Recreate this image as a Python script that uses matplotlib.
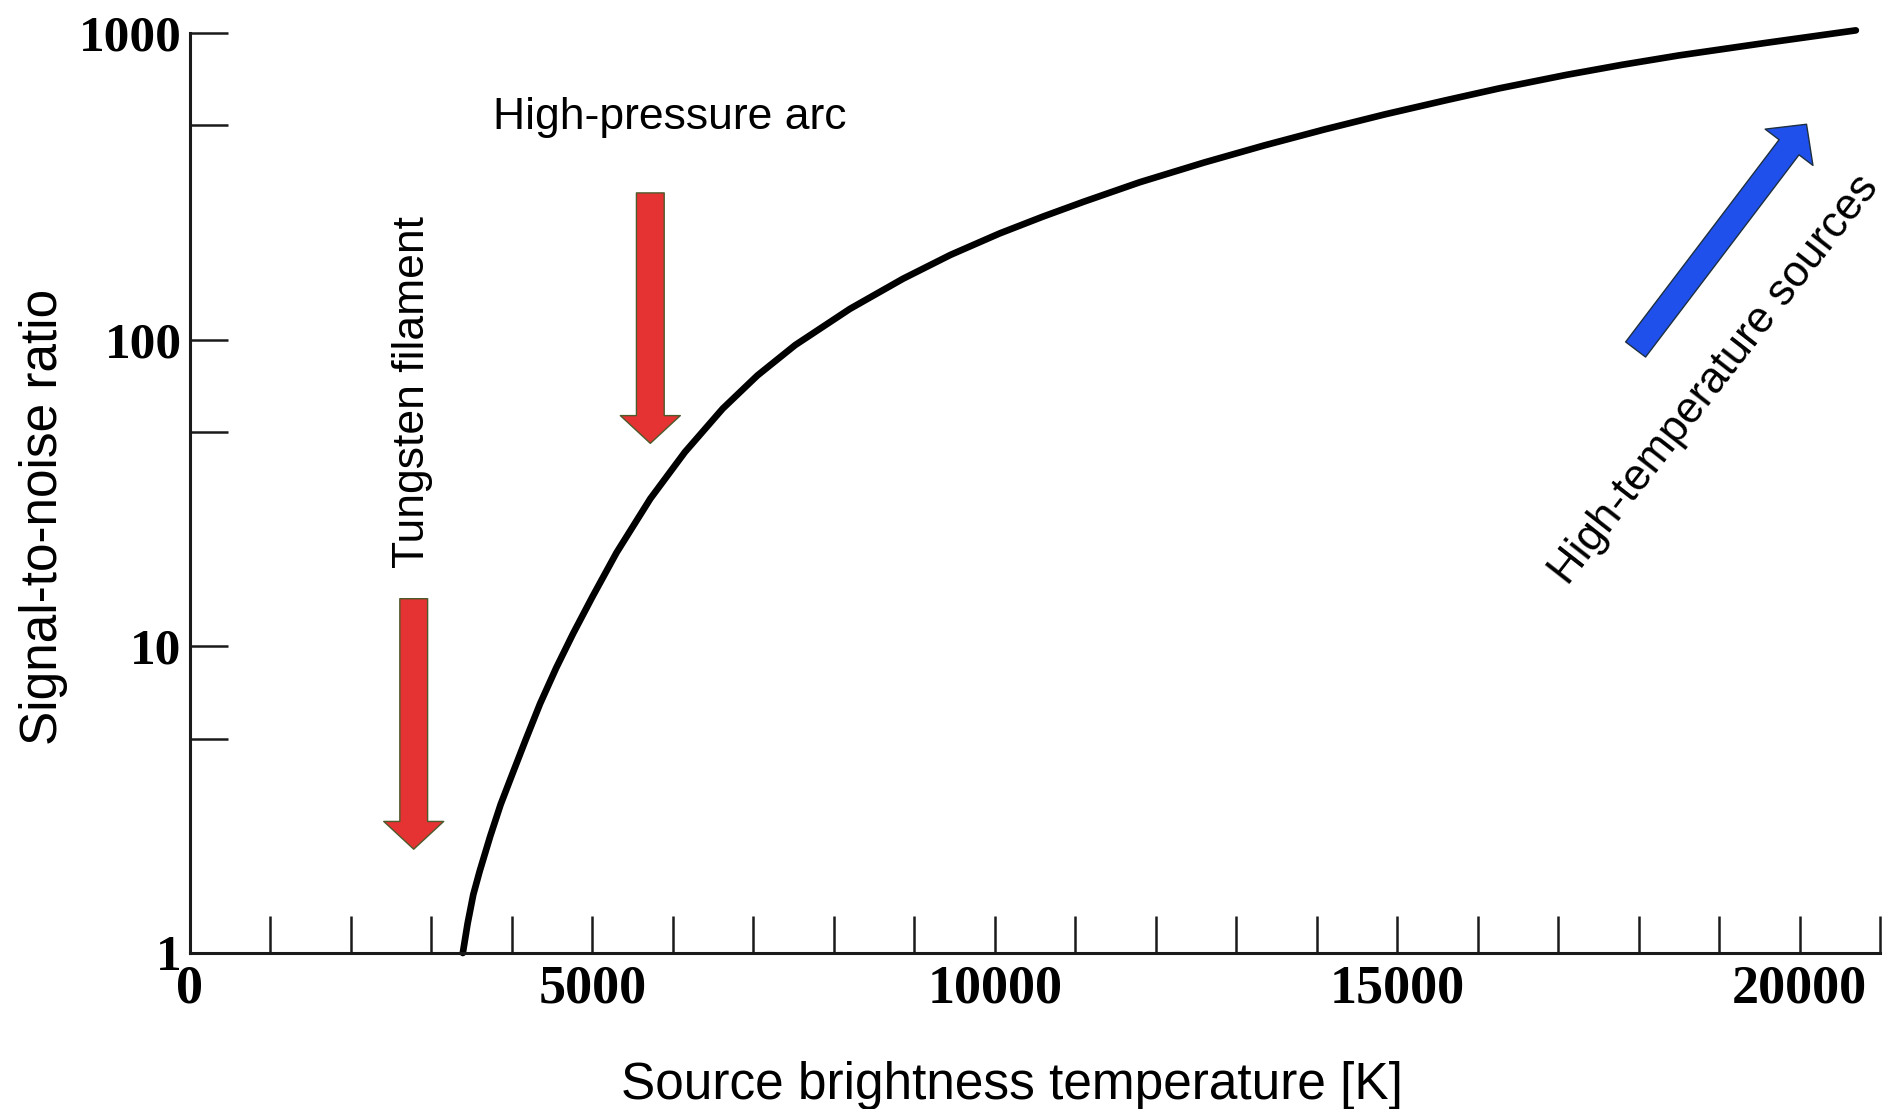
import matplotlib.pyplot as plt
from matplotlib.ticker import NullLocator

# Signal-to-noise ratio versus source brightness temperature
temperature = [3390, 3450, 3520, 3600, 3730, 3860, 4000, 4170, 4350, 4550,
               4760, 5000, 5300, 5720, 6150, 6620, 7050, 7520, 8200, 8860,
               9450, 10060, 10600, 11110, 11800, 12600, 13350, 14100, 14850,
               15600, 16270, 17100, 17800, 18500, 19600, 20700]
snr = [1.0, 1.25, 1.55, 1.85, 2.4, 3.05, 3.8, 4.95, 6.5, 8.5,
       11.0, 14.5, 20.2, 30.3, 43, 59.6, 76.4, 96, 126, 158,
       189, 222, 252, 282, 326, 378, 430, 485, 543,
       603, 660, 730, 788, 845, 930, 1020]

x_ticks = list(range(0, 21001, 1000))
x_labels = ['0', '5000', '10000', '15000', '20000']
y_ticks = [1, 5, 10, 50, 100, 500, 1000]
y_labels = ['1', '', '10', '', '100', '', '1000']

fig = plt.figure(figsize=(18.89, 11.09), dpi=100)
ax = fig.add_axes([190 / 1889, 1 - 953 / 1109, 1690 / 1889, 920 / 1109])

ax.plot(temperature, snr, color='black', lw=4.8, clip_on=False,
        solid_capstyle='round', solid_joinstyle='round')

ax.set_yscale('log')
ax.set_xlim(0, 21000)
ax.set_ylim(1, 1000)

ax.set_xticks(x_ticks)
ax.set_xticklabels([str(t) if str(t) in x_labels else '' for t in x_ticks])
ax.set_yticks(y_ticks)
ax.set_yticklabels(y_labels)
ax.yaxis.set_minor_locator(NullLocator())
ax.xaxis.set_minor_locator(NullLocator())

for side in ['top', 'right']:
    ax.spines[side].set_visible(False)
for side in ['left', 'bottom']:
    ax.spines[side].set_linewidth(2.2)
    ax.spines[side].set_color('#1a1a1a')

ax.tick_params(direction='in', length=27, width=1.8, color='#1a1a1a')
ax.tick_params(axis='x', pad=8)
ax.tick_params(axis='y', pad=6)
for lab in ax.get_xticklabels():
    lab.set_fontfamily('Liberation Serif')
    lab.set_fontweight('bold')
    lab.set_fontsize(39)
for lab in ax.get_yticklabels():
    lab.set_fontfamily('Liberation Serif')
    lab.set_fontweight('bold')
    lab.set_fontsize(37)

fig.text(44 / 1889, 1 - 517 / 1109, 'Signal-to-noise ratio', rotation=90,
         ha='center', va='center', fontsize=37, family='Liberation Sans')
fig.text(1012 / 1889, 1 - 1085 / 1109, 'Source brightness temperature [K]',
         ha='center', va='center', fontsize=37, family='Liberation Sans')

# Light-source markers
red_arrow = dict(arrowstyle='simple,head_length=0.5,head_width=1.08,tail_width=0.5',
                 mutation_scale=40, fc='#e53232', ec='#4d5a2c', lw=1,
                 shrinkA=0, shrinkB=0)
ax.annotate('', xy=(2780, 2.18), xytext=(2780, 14.3), arrowprops=red_arrow)
ax.annotate('', xy=(5720, 45.9), xytext=(5720, 301), arrowprops=red_arrow)

blue_arrow = dict(arrowstyle='simple,head_length=0.52,head_width=1.08,tail_width=0.45',
                  mutation_scale=40, fc='#1f50ec', ec='#1e3040', lw=1,
                  shrinkA=0, shrinkB=0)
ax.annotate('', xy=(20087, 504), xytext=(17963, 92.9), arrowprops=blue_arrow)

ax.text(5964, 530, 'High-pressure arc', ha='center', va='center',
        fontsize=32, family='Liberation Sans')
ax.text(2771, 67.7, 'Tungsten filament', rotation=90, ha='center', va='center',
        fontsize=32, family='Liberation Sans')
ax.text(18950, 74, 'High-temperature sources', rotation=52, ha='center',
        va='center', rotation_mode='anchor', fontsize=31.5, family='Liberation Sans')

fig.savefig('out.png', dpi=100)
